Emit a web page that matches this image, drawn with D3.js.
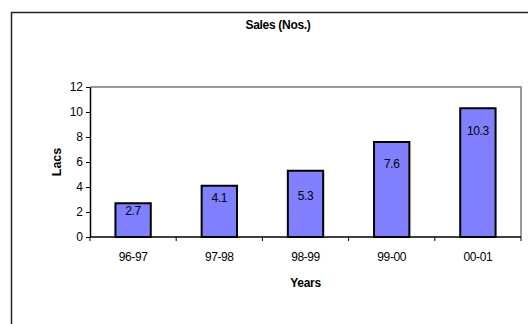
<!DOCTYPE html>
<html>
<head>
<meta charset="utf-8">
<script src="https://cdn.jsdelivr.net/npm/d3@7"></script>
<style>
  body { margin: 0; background: #fff; }
  svg { display: block; font-family: "Liberation Sans", Arial, sans-serif; }
</style>
</head>
<body>
<svg id="chart"></svg>
<script>
const years = ["96-97", "97-98", "98-99", "99-00", "00-01"];
const sales = [2.7, 4.1, 5.3, 7.6, 10.3];
const yTicks = [0, 2, 4, 6, 8, 10, 12];

const width = 528;
const height = 324;
const plot = { left: 90, top: 87, right: 521, bottom: 237 };
// the value labels were nudged by hand in the original, px below bar top
const labelDrop = [8, 12, 25, 21.5, 22.5];

const svg = d3.select("#chart").attr("width", width).attr("height", height);

// outer chart frame (runs off the right and bottom edges)
svg.append("rect")
  .attr("x", 11.5).attr("y", 12.5)
  .attr("width", 530).attr("height", 330)
  .attr("fill", "#fff")
  .attr("stroke", "#222")
  .attr("stroke-width", 1.5);

const x = d3.scaleBand()
  .domain(years)
  .range([plot.left, plot.right])
  .paddingInner(0.59)
  .paddingOuter(0.295);

const xTicks = d3.scaleBand().domain(years).range([plot.left, plot.right]);

const y = d3.scaleLinear().domain([0, 12]).range([plot.bottom, plot.top]);

// plot area border: grey top/right
svg.append("path")
  .attr("d", `M${plot.left},${plot.top}H${plot.right}V${plot.bottom}`)
  .attr("fill", "none")
  .attr("stroke", "#999")
  .attr("stroke-width", 2);

// bars
svg.selectAll(".bar")
  .data(sales)
  .enter()
  .append("rect")
  .attr("class", "bar")
  .attr("x", (d, i) => x(years[i]))
  .attr("y", (d) => y(d))
  .attr("width", x.bandwidth())
  .attr("height", (d) => y(0) - y(d))
  .attr("fill", "#8080ff")
  .attr("stroke", "#000")
  .attr("stroke-width", 2);

// value labels inside bars
svg.selectAll(".val")
  .data(sales)
  .enter()
  .append("text")
  .attr("class", "val")
  .attr("x", (d, i) => x(years[i]) + x.bandwidth() / 2)
  .attr("y", (d, i) => y(d) + labelDrop[i] + 4)
  .attr("text-anchor", "middle")
  .style("font-size", "12px")
  .style("letter-spacing", "-0.4px")
  .text((d) => d);

// y axis
const yAxis = svg.append("g")
  .attr("transform", `translate(${plot.left},0)`)
  .call(d3.axisLeft(y).tickValues(yTicks).tickSize(4).tickPadding(3).tickSizeOuter(0));
yAxis.select(".domain").attr("stroke", "#000").attr("stroke-width", 1.5);
yAxis.selectAll(".tick line").attr("stroke", "#000");
yAxis.selectAll("text").style("font-size", "12px").attr("fill", "#000");

// x axis with ticks on category boundaries
const xAxis = svg.append("g")
  .attr("transform", `translate(0,${plot.bottom})`);
xAxis.append("line")
  .attr("x1", plot.left).attr("x2", plot.right)
  .attr("stroke", "#000").attr("stroke-width", 1.5);
xAxis.selectAll(".xt")
  .data(years.concat(["end"]))
  .enter()
  .append("line")
  .attr("x1", (d, i) => i < years.length ? xTicks(d) : plot.right)
  .attr("x2", (d, i) => i < years.length ? xTicks(d) : plot.right)
  .attr("y1", 0).attr("y2", 4)
  .attr("stroke", "#000");
xAxis.selectAll(".xl")
  .data(years)
  .enter()
  .append("text")
  .attr("x", (d) => xTicks(d) + xTicks.bandwidth() / 2)
  .attr("y", 24)
  .attr("text-anchor", "middle")
  .style("font-size", "12px")
  .style("letter-spacing", "-0.4px")
  .text((d) => d);

// title and axis titles
svg.append("text")
  .attr("x", 278).attr("y", 29)
  .attr("text-anchor", "middle")
  .style("font-size", "12px")
  .style("font-weight", "bold")
  .style("letter-spacing", "-0.3px")
  .text("Sales (Nos.)");

svg.append("text")
  .attr("x", (plot.left + plot.right) / 2).attr("y", 287)
  .attr("text-anchor", "middle")
  .style("font-size", "12px")
  .style("font-weight", "bold")
  .style("letter-spacing", "-0.3px")
  .text("Years");

svg.append("text")
  .attr("transform", `translate(61,${(plot.top + plot.bottom) / 2}) rotate(-90)`)
  .attr("text-anchor", "middle")
  .style("font-size", "12.5px")
  .style("font-weight", "bold")
  .text("Lacs");
</script>
</body>
</html>
